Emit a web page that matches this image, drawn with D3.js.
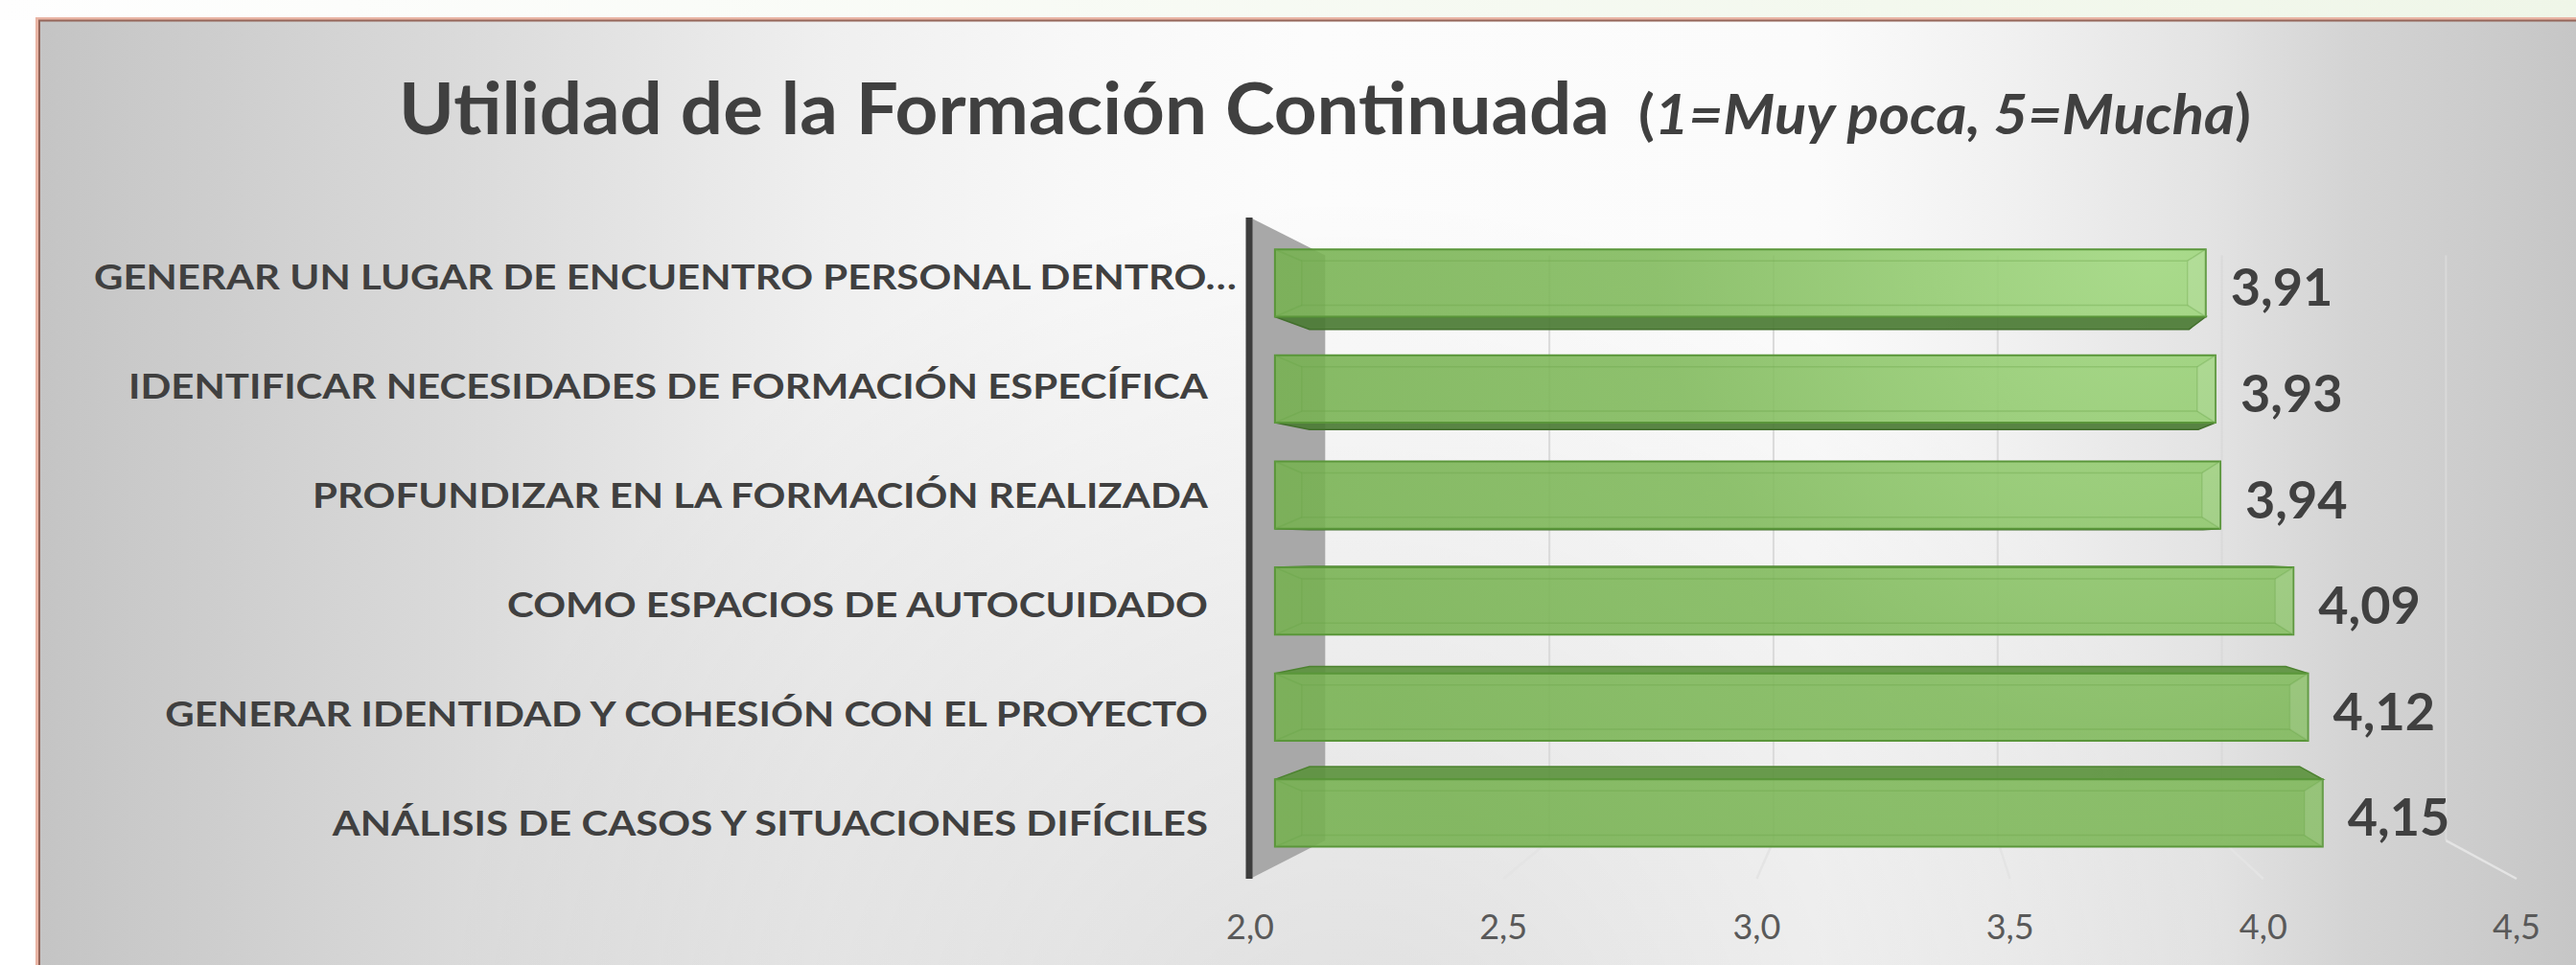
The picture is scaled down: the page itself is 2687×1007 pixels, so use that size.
<!DOCTYPE html>
<html>
<head>
<meta charset="utf-8">
<script src="https://cdn.jsdelivr.net/npm/d3@7"></script>
<style>
  body { margin: 0; background: #fff; }
  svg { display: block; }
  text { font-family: Lato, 'Open Sans', sans-serif; }
</style>
</head>
<body>
<div id="chart"></div>
<script>
// data, top to bottom as drawn
const categories = [
  'GENERAR UN LUGAR DE ENCUENTRO PERSONAL DENTRO…',
  'IDENTIFICAR NECESIDADES DE FORMACIÓN ESPECÍFICA',
  'PROFUNDIZAR EN LA FORMACIÓN REALIZADA',
  'COMO ESPACIOS DE AUTOCUIDADO',
  'GENERAR IDENTIDAD Y COHESIÓN CON EL PROYECTO',
  'ANÁLISIS DE CASOS Y SITUACIONES DIFÍCILES'
]
const values = [3.91, 3.93, 3.94, 4.09, 4.12, 4.15]
const ticks = [2.0, 2.5, 3.0, 3.5, 4.0, 4.5]
const titleMain = 'Utilidad de la Formación Continuada'
const titleNote = '1=Muy poca, 5=Mucha'

const W = 2687
const H = 1007

const locale = d3.formatLocale({ decimal: ',', thousands: '.', grouping: [3], currency: ['', '€'] })
const fmtValue = locale.format('.2f')
const fmtTick = locale.format('.1f')

// fake 3d: everything projected towards a vanishing point
const vp = { x: 1985, y: 570 }
const kWall = 0.885 // back wall depth
const kBarFront = 0.962
const kBarBack = 0.909
function proj(x, y, k) {
  return [vp.x + k * (x - vp.x), vp.y + k * (y - vp.y)]
}

const x = d3.scaleLinear().domain([2, 4.5]).range([1304, 2625])
const y = d3.scaleBand().domain(categories).range([227, 917])
const barThick = y.bandwidth() * 0.635
const plotTop = y.range()[0]
const plotBottom = y.range()[1]

const svg = d3.select('#chart').append('svg').attr('width', W).attr('height', H)
const defs = svg.append('defs')

// page + chart area backgrounds
const topStrip = defs.append('linearGradient').attr('id', 'topStrip')
topStrip.append('stop').attr('offset', 0).attr('stop-color', '#fefefe')
topStrip.append('stop').attr('offset', 1).attr('stop-color', '#eff6e8')

const bg = defs.append('linearGradient').attr('id', 'bg')
  .attr('gradientUnits', 'userSpaceOnUse').attr('x1', 40).attr('x2', W).attr('y1', 0).attr('y2', 0)
;[[0, '#c4c4c4'], [0.05, '#cbcbcb'], [0.18, '#dcdcdc'], [0.31, '#efefef'], [0.41, '#f8f8f8'],
  [0.5, '#fcfcfc'], [0.7, '#fbfbfb'], [0.78, '#f0f0f0'], [0.855, '#e3e3e3'], [0.91, '#d4d4d4'], [1, '#c6c6c6']]
  .forEach(s => bg.append('stop').attr('offset', s[0]).attr('stop-color', s[1]))

const shade = defs.append('radialGradient').attr('id', 'shade')
  .attr('gradientUnits', 'userSpaceOnUse').attr('cx', 1400).attr('cy', 1150).attr('r', 950)
shade.append('stop').attr('offset', 0).attr('stop-color', '#000').attr('stop-opacity', 0.12)
shade.append('stop').attr('offset', 1).attr('stop-color', '#000').attr('stop-opacity', 0)

const barFill = defs.append('radialGradient').attr('id', 'barFill')
  .attr('gradientUnits', 'userSpaceOnUse').attr('cx', 2250).attr('cy', 250).attr('r', 950)
barFill.append('stop').attr('offset', 0).attr('stop-color', '#a2da80')
barFill.append('stop').attr('offset', 0.55).attr('stop-color', '#7fb95a')
barFill.append('stop').attr('offset', 1).attr('stop-color', '#76b150')

svg.append('rect').attr('width', W).attr('height', 21).attr('fill', 'url(#topStrip)')
svg.append('rect').attr('x', 41).attr('y', 21).attr('width', W).attr('height', H).attr('fill', 'url(#bg)')
svg.append('rect').attr('x', 41).attr('y', 21).attr('width', W).attr('height', H).attr('fill', 'url(#shade)')

// frame
svg.append('path').attr('d', `M39,${H}V20H${W}`).attr('fill', 'none').attr('stroke', '#e9b4a4').attr('stroke-width', 4)
svg.append('path').attr('d', `M41,${H}V21.5H${W}`).attr('fill', 'none').attr('stroke', '#94665a').attr('stroke-width', 2)

// title
const titleG = svg.append('g').attr('class', 'title').attr('fill', '#404040')
titleG.append('text')
  .attr('x', 416).attr('y', 140)
  .attr('font-size', 74).attr('font-weight', 700)
  .attr('textLength', 1263).attr('lengthAdjust', 'spacingAndGlyphs')
  .text(titleMain)
const note = titleG.append('text')
  .attr('x', 1709).attr('y', 140)
  .attr('font-size', 58).attr('font-weight', 700)
  .attr('textLength', 639).attr('lengthAdjust', 'spacingAndGlyphs')
note.append('tspan').text('(')
note.append('tspan').attr('font-style', 'italic').text(titleNote)
note.append('tspan').text(')')

const line = d3.line()

// back wall gridlines
const grid = svg.append('g').attr('class', 'grid')
grid.selectAll('.wall-grid')
  .data(ticks.slice(1))
  .enter()
  .append('path')
  .attr('class', 'wall-grid')
  .attr('d', d => line([proj(x(d), plotTop, kWall), proj(x(d), plotBottom, kWall)]))
  .attr('stroke', '#dadada').attr('stroke-width', 2).attr('fill', 'none')

// floor gridlines
grid.selectAll('.floor-grid')
  .data(ticks.slice(1))
  .enter()
  .append('path')
  .attr('class', 'floor-grid')
  .attr('d', d => line([proj(x(d), plotBottom, kWall), [x(d), plotBottom]]))
  .attr('stroke', '#e4e4e4').attr('stroke-width', 2.5).attr('fill', 'none')

// side wall (the value-axis wall at 2,0)
const x0 = x(2)
svg.append('path')
  .attr('d', line([[x0, plotTop], proj(x0, plotTop, kWall), proj(x0, plotBottom, kWall), [x0, plotBottom]]) + 'Z')
  .attr('fill', '#a8a8a8')
svg.append('line')
  .attr('x1', x0 - 1).attr('x2', x0 - 1).attr('y1', plotTop).attr('y2', plotBottom)
  .attr('stroke', '#3d3d3d').attr('stroke-width', 7)

// bars
const rows = categories.map((c, i) => ({ cat: c, value: values[i] }))
const bars = svg.append('g').attr('class', 'bars')
  .selectAll('.bar')
  .data(rows)
  .enter()
  .append('g')
  .attr('class', 'bar')

bars.each(function(d) {
  const g = d3.select(this)
  const x1 = x(d.value)
  const yc = y(d.cat) + y.bandwidth() / 2
  const t = yc - barThick / 2
  const b = yc + barThick / 2

  // top or bottom face, whichever faces the eye
  if (t > vp.y) {
    g.append('path')
      .attr('d', line([proj(x0, t, kBarFront), proj(x1, t, kBarFront), proj(x1, t, kBarBack), proj(x0, t, kBarBack)]) + 'Z')
      .attr('fill', '#5c933e').attr('fill-opacity', 0.92)
      .attr('stroke', '#4c822f').attr('stroke-width', 1.5)
  }
  if (b < vp.y) {
    g.append('path')
      .attr('d', line([proj(x0, b, kBarFront), proj(x1, b, kBarFront), proj(x1, b, kBarBack), proj(x0, b, kBarBack)]) + 'Z')
      .attr('fill', '#4b7b34').attr('fill-opacity', 0.92)
      .attr('stroke', '#426f2c').attr('stroke-width', 1.5)
  }

  // front face
  const p = [proj(x0, t, kBarFront), proj(x1, t, kBarFront), proj(x1, b, kBarFront), proj(x0, b, kBarFront)]
  g.append('path')
    .attr('d', line(p) + 'Z')
    .attr('fill', 'url(#barFill)').attr('fill-opacity', 0.88)
    .attr('stroke', '#5a963a').attr('stroke-width', 2)

  // bevel
  const inL = 28, inR = 19, inT = 12, inB = 12
  const q = [
    [p[0][0] + inL, p[0][1] + inT], [p[1][0] - inR, p[1][1] + inT],
    [p[2][0] - inR, p[2][1] - inB], [p[3][0] + inL, p[3][1] - inB]
  ]
  g.append('path')
    .attr('d', line(q) + 'Z')
    .attr('fill', 'none').attr('stroke', '#6aa449').attr('stroke-opacity', 0.35).attr('stroke-width', 1.5)
  g.append('path')
    .attr('d', p.map((c, i) => 'M' + c + 'L' + q[i]).join(''))
    .attr('fill', 'none').attr('stroke', '#6aa449').attr('stroke-opacity', 0.4).attr('stroke-width', 1.5)
  // light strip along the right bevel
  g.append('path')
    .attr('d', line([p[1], p[2], q[2], q[1]]) + 'Z')
    .attr('fill', '#ffffff').attr('fill-opacity', 0.12)

  // value label
  const e = proj(x1, yc, kBarFront)
  g.append('text')
    .attr('x', e[0] + 26).attr('y', e[1] + 24)
    .attr('font-size', 54).attr('font-weight', 700).attr('fill', '#404040')
    .text(fmtValue(d.value))
})

// category labels (condensed to calibri-like widths)
const labels = svg.append('g').attr('class', 'cat-labels')
  .selectAll('text')
  .data(categories)
  .enter()
  .append('text')
  .attr('text-anchor', 'end')
  .attr('x', d => (d.endsWith('…') ? 1290 : 1260))
  .attr('y', d => proj(x0, y(d) + y.bandwidth() / 2, 0.99)[1] + 15)
  .attr('font-size', 36).attr('font-weight', 700).attr('fill', '#404040')
  .text(d => d)

const refWidth = labels.filter((d, i) => i === 1).node().getComputedTextLength()
const condense = 1126 / refWidth
labels.each(function() {
  const w = this.getComputedTextLength()
  d3.select(this).attr('textLength', w * condense).attr('lengthAdjust', 'spacingAndGlyphs')
})

// value axis tick labels along the front edge
svg.append('g').attr('class', 'ticks')
  .selectAll('text')
  .data(ticks)
  .enter()
  .append('text')
  .attr('x', d => x(d))
  .attr('y', 980)
  .attr('text-anchor', 'middle')
  .attr('font-size', 36).attr('fill', '#595959')
  .text(d => fmtTick(d))
</script>
</body>
</html>
